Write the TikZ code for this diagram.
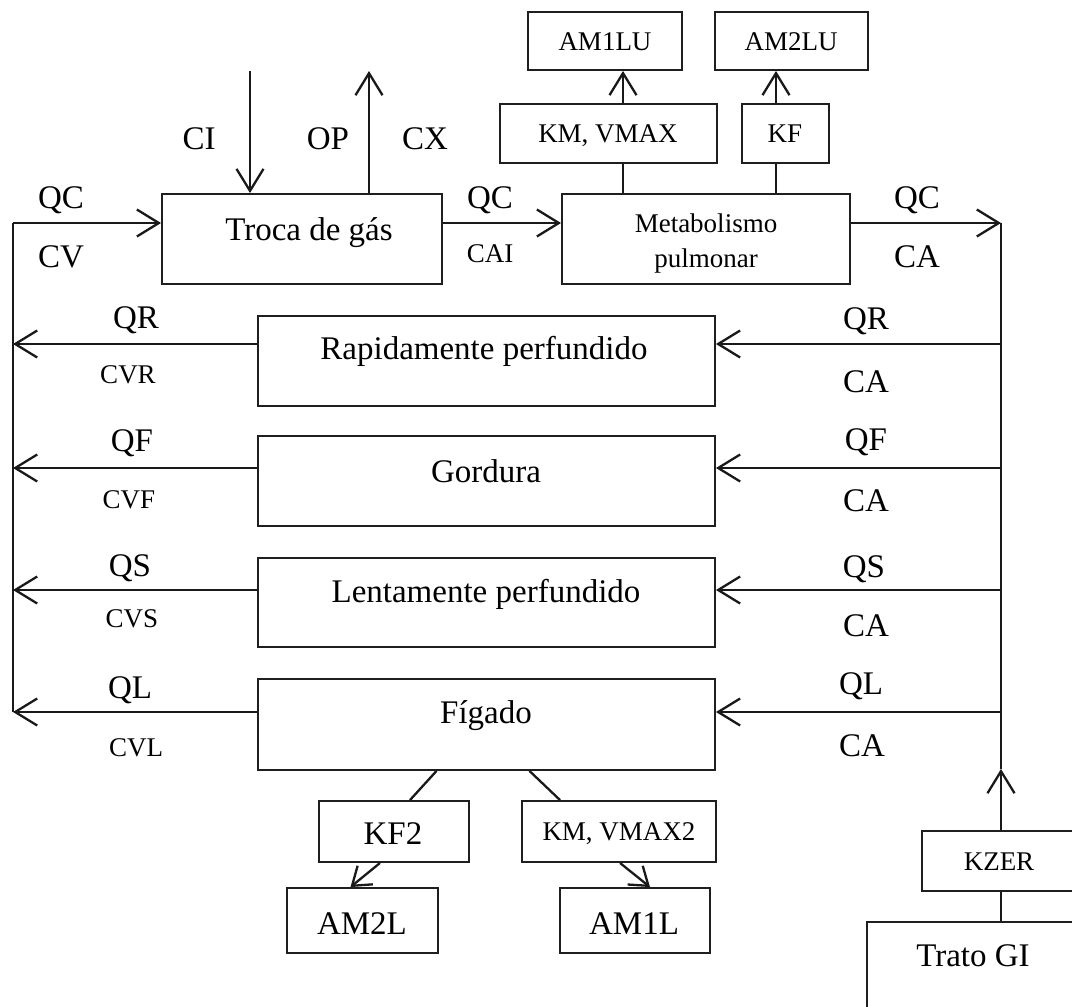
\documentclass[tikz,border=0pt]{standalone}
\usepackage{fontspec}
\setmainfont{Liberation Serif}
\usetikzlibrary{arrows.meta}
\begin{document}
\begin{tikzpicture}[x=1pt,y=-1pt,
  box/.style={draw=black!88, line width=1.9pt, inner sep=0pt},
  wire/.style={draw=black!90, line width=2.3pt},
  arr/.style={wire, -{Straight Barb[length=22pt,width=27pt,line width=2.3pt]}},
  sarr/.style={wire, -{Straight Barb[length=17pt,width=24pt,line width=2.3pt]}},
  big/.style={font=\fontsize{33}{36}\selectfont, inner sep=0pt, anchor=base},
  small/.style={font=\fontsize{27}{30}\selectfont, inner sep=0pt, anchor=base},
]
\useasboundingbox (0,0) rectangle (1072,1007);
\clip (0,0) rectangle (1072,1007);
\fill[white] (0,0) rectangle (1072,1007);

% box helper: name, x1, y1, x2, y2
\newcommand\mkbox[5]{\node[box, minimum width={#4-#2}, minimum height={#5-#3}] (#1) at ({(#2+#4)/2},{(#3+#5)/2}) {};}

% lungs and metabolism
\mkbox{am1lu}{528}{12}{682}{70}
\mkbox{am2lu}{715}{12}{868}{70}
\mkbox{kmv}{500}{104}{717}{163}
\mkbox{kf}{742}{104}{829}{163}
\mkbox{troca}{162}{194}{442}{284}
\mkbox{metab}{562}{194}{850}{284}

% tissue compartments
\mkbox{rap}{258}{316}{715}{406}
\mkbox{gord}{258}{436}{715}{526}
\mkbox{lent}{258}{558}{715}{647}
\mkbox{fig}{258}{679}{715}{770}

% liver metabolism
\mkbox{kftwo}{319}{801}{469}{862}
\mkbox{kmvtwo}{522}{801}{716}{862}
\mkbox{amtwol}{287}{888}{438}{953}
\mkbox{amonel}{560}{888}{710}{953}

% oral uptake
\mkbox{kzer}{922}{831}{1080}{891}
\mkbox{trato}{867}{922}{1080}{1040}

% box texts
\node[small] (t-am1lu) at (605,50) {AM1LU};
\node[small] (t-am2lu) at (791,50) {AM2LU};
\node[small] (t-kmv) at (608,142) {KM, VMAX};
\node[small] (t-kf) at (785,142) {KF};
\node[big] (t-troca) at (309,240) {Troca de gás};
\node[small] (t-metab1) at (706,232) {Metabolismo};
\node[small] (t-metab2) at (706,267) {pulmonar};
\node[big] (t-rap) at (484,359) {Rapidamente perfundido};
\node[big] (t-gord) at (486,482) {Gordura};
\node[big] (t-lent) at (486,602) {Lentamente perfundido};
\node[big] (t-fig) at (486,723) {Fígado};
\node[big] (t-kftwo) at (393,844) {KF2};
\node[small] (t-kmvtwo) at (619,840) {KM, VMAX2};
\node[big] (t-amtwol) at (362,934) {AM2L};
\node[big] (t-amonel) at (634,934) {AM1L};
\node[small] (t-kzer) at (999,870) {KZER};
\node[big] (t-trato) at (973,966) {Trato GI};

% venous and arterial collectors
\coordinate (lt) at (13,223);
\coordinate (lb) at (13,712);
\coordinate (rt) at (1001,223);
\coordinate (rb) at (1001,712);
\coordinate (r1) at (1001,344);
\coordinate (r2) at (1001,468);
\coordinate (r3) at (1001,590);
\coordinate (za) at (1001,769);
\coordinate (ci) at (250,71);
\coordinate (op) at (369,71);
\coordinate (k1) at (623,0);
\coordinate (k2) at (776,0);

\draw[wire] (lt) -- (lb);
\draw[wire] (rt) -- (rb);
\draw[arr] (lt) -- (lt -| troca.west);
\draw[arr] (lt -| troca.east) -- (lt -| metab.west);
\draw[arr] (lt -| metab.east) -- (rt);

\draw[arr] (ci) -- (ci |- troca.north);
\draw[arr] (op |- troca.north) -- (op);

\draw[wire] (k1 |- metab.north) -- (k1 |- kmv.south);
\draw[arr] (k1 |- kmv.north) -- (k1 |- am1lu.south);
\draw[wire] (k2 |- metab.north) -- (k2 |- kf.south);
\draw[arr] (k2 |- kf.north) -- (k2 |- am2lu.south);

% arterial supply and venous return of each compartment
\draw[arr] (r1) -- (r1 -| rap.east);
\draw[arr] (r1 -| rap.west) -- (r1 -| lt);
\draw[arr] (r2) -- (r2 -| gord.east);
\draw[arr] (r2 -| gord.west) -- (r2 -| lt);
\draw[arr] (r3) -- (r3 -| lent.east);
\draw[arr] (r3 -| lent.west) -- (r3 -| lt);
\draw[arr] (rb) -- (rb -| fig.east);
\draw[arr] (rb -| fig.west) -- (lb);

% liver to metabolic pathways
\draw[wire] ([xshift=-50pt]fig.south) -- ([xshift=16pt]kftwo.north);
\draw[wire] ([xshift=43pt]fig.south) -- ([xshift=-59pt]kmvtwo.north);
\draw[sarr] ([xshift=-14pt]kftwo.south) -- ([xshift=-12pt]amtwol.north);
\draw[sarr] ([xshift=1pt]kmvtwo.south) -- ([xshift=15pt]amonel.north);

% gut absorption into arterial blood
\draw[arr] (kzer.north) -- (za);
\draw[wire] (za) -- (rb);
\draw[wire] (kzer.south) -- (kzer.south |- trato.north);

% flow and concentration labels
\node[big] (l-ci) at (199,149) {CI};
\node[big] (l-op) at (328,149) {OP};
\node[big] (l-cx) at (425,149) {CX};
\node[big] (l-qc1) at (61,208) {QC};
\node[big] (l-cv) at (61,267) {CV};
\node[big] (l-qc2) at (490,208) {QC};
\node[small] (l-cai) at (490,262) {CAI};
\node[big] (l-qc3) at (917,208) {QC};
\node[big] (l-ca0) at (917,267) {CA};

\node[big] (l-qr) at (136,328) {QR};
\node[small] (l-cvr) at (128,383) {CVR};
\node[big] (l-qf) at (132,451) {QF};
\node[small] (l-cvf) at (129,508) {CVF};
\node[big] (l-qs) at (130,576) {QS};
\node[small] (l-cvs) at (132,627) {CVS};
\node[big] (l-ql) at (130,698) {QL};
\node[small] (l-cvl) at (136,756) {CVL};

\node[big] (r-qr) at (866,329) {QR};
\node[big] (r-ca1) at (866,392) {CA};
\node[big] (r-qf) at (866,450) {QF};
\node[big] (r-ca2) at (866,511) {CA};
\node[big] (r-qs) at (864,577) {QS};
\node[big] (r-ca3) at (866,636) {CA};
\node[big] (r-ql) at (861,694) {QL};
\node[big] (r-ca4) at (862,756) {CA};
\end{tikzpicture}
\end{document}
